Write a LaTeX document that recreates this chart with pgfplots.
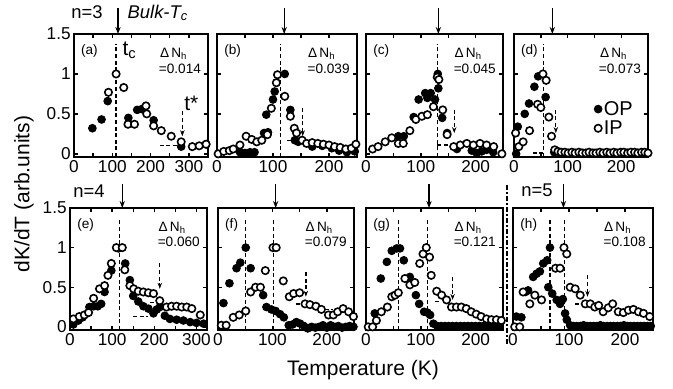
\documentclass[border=0pt]{standalone}
\usepackage{fontspec}
\setmainfont{Liberation Sans}
\usepackage{pgfplots}
\pgfplotsset{compat=1.18}
\usetikzlibrary{arrows.meta}
\pgfplotsset{
  panel/.style={scale only axis, anchor=south west, ymin=-0.04, ymax=1.5, xmin=0,
    ytick={0,0.5,1,1.5}, yticklabels={}, tick align=inside, tick pos=both,
    major tick length=2.2pt, every tick/.append style={line width=0.7pt, black},
    axis line style={line width=0.8pt},
    clip=false,
    tick label style={font=\fontsize{8.6}{9}\selectfont},
    xticklabel style={inner sep=1.5pt},
    yticklabel style={inner sep=1.5pt},
    /pgf/number format/assume math mode=true,
  },
  op/.style={only marks, mark=*, mark size=1.9pt, mark options={fill=black, draw=black, line width=0.5pt}},
  ip/.style={only marks, mark=*, mark size=1.85pt, mark options={fill=white, draw=black, line width=0.8pt}},
  r1/.style={panel, height=61.5pt},
  r2/.style={panel, height=61pt},
  tthree/.style={xtick={0,50,...,300}, xticklabels={0,,100,,200,,300}},
  ttwo/.style={xmax=250, xtick={0,50,...,250}, xticklabels={0,,100,,200,}},
  ylab/.style={yticklabels={0,0.5,1,1.5}},
}
\tikzset{
  dsh/.style={line width=0.65pt, dash pattern=on 2pt off 1.3pt},
  lab/.style={font=\fontsize{6.8}{7}\selectfont, inner sep=0pt},
}
\newcommand\vd[3]{\draw[dsh] (axis cs:#1,#2) -- (axis cs:#1,#3);}
\newcommand\hd[3]{\draw[dsh] (axis cs:#1,#3) -- (axis cs:#2,#3);}
\newcommand\ta[3]{\draw[dsh,-{Stealth[length=3pt,width=2.2pt]}] (axis cs:#1,#2) -- (axis cs:#1,#3);}
\newcommand\bulk[2]{\draw[line width=0.65pt,-{Stealth[length=3.5pt,width=2.6pt]}] (axis cs:#1,#2) -- (axis cs:#1,1.5);}
\newcommand\anno[2]{%
  \node[lab, anchor=west] at (rel axis cs:0.05,0.86) {(#1)};
  \node[lab, anchor=east] at (rel axis cs:0.85,0.84) {Δ\,N\textsubscript{h}};
  \node[lab, anchor=east] at (rel axis cs:0.95,0.72) {=#2};}
\begin{document}
\begin{tikzpicture}
\path[use as bounding box] (0,0) rectangle (336.5pt,194pt);
% ---------- (a)
\begin{axis}[r1, ylab, tthree, xmax=350, width=67pt, at={(37pt,115.5pt)}]
\addplot[op] coordinates {(48,0.32)(72,0.43)(88,0.66)(142,0.45)(165,0.55)(177,0.56)(208,0.42)(280,0.09)(345,0.12)};
\addplot[ip] coordinates {(90,0.77)(110,1.0)(130,0.83)(141,0.37)(158,0.37)(188,0.6)(190,0.5)(208,0.35)(228,0.29)(254,0.22)(280,0.15)(309,0.09)(327,0.1)(345,0.12)};
\vd{110}{-0.04}{1.38}
\ta{283}{0.53}{0.22}
\hd{224}{272}{0.1}
\bulk{115}{1.82}
\node[font=\fontsize{10.5}{11}\selectfont, anchor=west, inner sep=0pt] at (axis cs:126,1.3) {t\textsubscript{c}};
\node[font=\fontsize{10.5}{11}\selectfont, anchor=west, inner sep=0pt] at (axis cs:287,0.63) {t*};
\anno{a}{0.014}
\end{axis}
% ---------- (b)
\begin{axis}[r1, ttwo, width=70pt, at={(108.5pt,115.5pt)}]
\addplot[op] coordinates {(41,0.02)(50,0.01)(59,0.02)(67,0.02)(84,0.26)(91,0.27)(88,0.49)(100,0.68)(103,0.78)(121,1.0)(131,0.55)(139,0.17)(145,0.15)(170,0.09)(188,0.1)(205,0.07)(218,0.04)(232,0.02)(246,0.03)};
\addplot[ip] coordinates {(2,0.0)(12,0.03)(22,0.04)(29,0.06)(41,0.11)(52,0.22)(62,0.18)(71,0.15)(80,0.17)(90,0.24)(97,0.57)(106,0.89)(108,0.99)(121,0.72)(131,0.47)(138,0.32)(142,0.26)(152,0.17)(160,0.13)(170,0.14)(180,0.13)(190,0.12)(200,0.11)(210,0.09)(220,0.08)(230,0.06)(240,0.07)(248,0.12)};
\vd{113}{-0.04}{1.38}
\ta{153}{0.57}{0.22}
\hd{125}{148}{0.17}
\bulk{120}{1.82}
\anno{b}{0.039}
\end{axis}
% ---------- (c)
\begin{axis}[r1, ttwo, width=68.5pt, at={(183pt,115.5pt)}]
\addplot[op] coordinates {(59,0.22)(69,0.22)(87,0.46)(96,0.68)(108,0.76)(112,0.7)(118,0.76)(126,0.68)(132,0.82)(131,1.0)(139,0.45)(148,0.26)(166,0.06)(193,0.04)(202,0.01)(211,0.03)(220,0.05)(232,0.02)};
\addplot[ip] coordinates {(12,0.06)(22,0.09)(35,0.15)(47,0.2)(59,0.13)(68,0.13)(80,0.29)(91,0.43)(102,0.47)(112,0.49)(123,0.59)(130,0.96)(133,0.93)(140,0.55)(148,0.24)(160,0.09)(172,0.11)(184,0.13)(196,0.11)(208,0.13)(220,0.11)(233,0.09)(248,0.0)};
\vd{130}{-0.04}{1.38}
\ta{161}{0.55}{0.26}
\hd{130}{158}{0.11}
\bulk{132}{1.82}
\anno{c}{0.045}
\end{axis}
% ---------- (d)
\begin{axis}[r1, ttwo, width=67pt, at={(257pt,115.5pt)}]
\addplot[op] coordinates {(4,0.0)(7,0.34)(20,0.5)(28,0.63)(38,0.84)(45,0.97)(59,0.71)(75,0.02)(90,0.01)(110,0.01)(130,0.01)(150,0.01)(170,0.01)(190,0.01)(210,0.01)(230,0.01)(248,0.01)};
\addplot[ip] coordinates {(3,0.26)(9,0.09)(17,0.15)(29,0.29)(44,0.62)(50,0.58)(54,1.0)(60,0.92)(65,0.46)(70,0.22)(76,0.05)(82,0.03)(88,0.02)(95,0.02)(101,0.01)(108,0.02)(114,0.01)(121,0.02)(127,0.01)(134,0.01)(140,0.02)(147,0.01)(153,0.01)(160,0.02)(166,0.01)(173,0.02)(179,0.01)(186,0.02)(192,0.01)(199,0.02)(205,0.02)(212,0.01)(218,0.02)(225,0.02)(231,0.01)(238,0.02)(244,0.02)(250,0.01)};
\vd{55}{-0.04}{1.38}
\ta{78}{0.55}{0.26}
\hd{35}{55}{0.01}
\bulk{71.5}{1.82}
\anno{d}{0.073}
\addplot[op] coordinates {(157,0.56)};
\addplot[ip] coordinates {(157,0.32)};
\node[font=\fontsize{10}{10}\selectfont, anchor=west, inner sep=0pt] at (axis cs:167,0.57) {OP};
\node[font=\fontsize{10}{10}\selectfont, anchor=west, inner sep=0pt] at (axis cs:167,0.33) {IP};
\end{axis}
% ---------- (e)
\begin{axis}[r2, ylab, tthree, xmax=325, width=68.5pt, at={(35pt,29pt)}]
\addplot[op] coordinates {(8,0.03)(20,0.08)(30,0.12)(46,0.25)(56,0.26)(66,0.26)(74,0.29)(82,0.44)(98,0.71)(115,0.99)(131,0.8)(142,0.59)(150,0.39)(162,0.32)(174,0.26)(186,0.23)(198,0.17)(206,0.22)(213,0.25)(225,0.14)(237,0.1)(253,0.09)(269,0.08)(285,0.06)(300,0.05)(317,0.04)};
\addplot[ip] coordinates {(8,0.1)(22,0.13)(34,0.15)(44,0.18)(56,0.36)(70,0.48)(82,0.52)(90,0.65)(98,0.8)(110,1.0)(124,1.0)(130,0.72)(142,0.52)(151,0.48)(162,0.45)(174,0.44)(186,0.43)(198,0.42)(213,0.33)(229,0.25)(241,0.26)(253,0.26)(265,0.25)(277,0.25)(289,0.23)(309,0.15)};
\vd{118}{-0.04}{1.37}
\ta{213}{0.8}{0.48}
\hd{150}{186}{0.13}
\hd{190}{206}{0.31}
\bulk{124}{1.8}
\anno{e}{0.060}
\end{axis}
% ---------- (f)
\begin{axis}[r2, ttwo, width=68pt, at={(109pt,29pt)}]
\addplot[op] coordinates {(10,0.3)(21,0.55)(34,0.74)(41,0.81)(51,1.0)(60,0.74)(83,0.4)(89,0.25)(98,0.22)(106,0.2)(114,0.16)(121,0.12)(130,0.02)(137,0.03)(144,0.06)(151,0.04)(158,0.01)(165,-0.02)(172,0.0)(179,-0.01)(186,0.0)(193,0.02)(200,-0.01)(207,0.02)(214,0.0)(221,0.01)(228,-0.01)(235,0.0)(242,0.01)(249,0.0)};
\addplot[ip] coordinates {(6,0.02)(15,0.02)(28,0.12)(39,0.15)(51,0.2)(60,0.44)(69,0.5)(78,0.5)(87,0.71)(101,1.0)(107,1.0)(120,0.58)(131,0.38)(139,0.42)(150,0.43)(160,0.29)(169,0.28)(180,0.26)(190,0.22)(203,0.15)(212,0.15)(220,0.19)(230,0.23)(240,0.19)(249,0.13)};
\vd{51}{-0.04}{1.37}
\vd{102.5}{-0.04}{1.37}
\ta{161.5}{0.69}{0.38}
\hd{144}{160}{0.29}
\hd{196}{212}{0.22}
\bulk{106}{1.8}
\anno{f}{0.079}
\end{axis}
% ---------- (g)
\begin{axis}[r2, ttwo, width=68.5pt, at={(183pt,29pt)}]
\addplot[op] coordinates {(16,0.17)(27,0.61)(38,0.82)(47,0.96)(56,0.99)(62,0.99)(69,0.84)(80,0.63)(91,0.4)(97,0.29)(106,0.19)(112,0.18)(117,0.15)(123,0.04)(130,0.01)(137,0.01)(144,0.01)(151,0.01)(158,0.01)(165,0.01)(172,0.01)(179,0.01)(186,0.01)(193,0.01)(200,0.01)(207,0.01)(214,0.01)(221,0.01)(228,0.01)(235,0.0)(242,0.01)};
\addplot[ip] coordinates {(4,0)(12,0)(19,0.08)(28,0.19)(39,0.25)(47,0.38)(53,0.4)(59,0.43)(71,0.61)(80,0.53)(89,0.56)(98,0.8)(104,0.92)(110,1.0)(116,0.88)(119,0.65)(129,0.45)(138,0.4)(147,0.34)(156,0.25)(165,0.25)(174,0.25)(183,0.23)(192,0.19)(201,0.16)(210,0.13)(220,0.1)(229,0.09)(238,0.09)(247,0.08)};
\vd{59}{-0.04}{1.37}
\vd{112}{-0.04}{1.37}
\ta{158}{0.63}{0.34}
\hd{126}{136}{0.32}
\bulk{115}{1.8}
\anno{g}{0.121}
\end{axis}
% ---------- (h)
\begin{axis}[r2, ttwo, width=70pt, at={(256.5pt,29pt)}]
\addplot[op] coordinates {(6,0.13)(15,0.12)(22,0.44)(27,0.46)(36,0.63)(42,0.67)(48,0.7)(54,0.8)(61,0.84)(66,1.0)(63,0.5)(70,0.42)(78,0.34)(84,0.29)(89,0.35)(93,0.17)(96,0.09)(102,0.02)(108,0.01)(114,0.01)(120,0.01)(126,0.02)(132,0.01)(138,0.01)(144,0.01)(150,0.01)(156,0.02)(162,0.01)(168,0.01)(174,0.01)(180,0.01)(186,0.01)(192,0.01)(198,0.02)(204,0.01)(210,0.01)(216,0.01)(222,0.01)(228,0.01)(234,0.01)(240,0.01)(246,0.01)};
\addplot[ip] coordinates {(3,0.0)(12,0.0)(18,0.44)(30,0.29)(39,0.4)(51,0.34)(76,0.74)(84,0.74)(91,1.0)(96,0.92)(102,0.5)(111,0.48)(120,0.4)(129,0.29)(138,0.29)(146,0.25)(153,0.27)(161,0.19)(170,0.24)(178,0.29)(188,0.19)(197,0.18)(206,0.21)(215,0.22)(224,0.19)(233,0.17)(244,0.13)};
\vd{66}{-0.04}{1.37}
\vd{91.5}{-0.04}{1.37}
\ta{133}{0.65}{0.38}
\hd{111}{126}{0.29}
\bulk{90}{1.8}
\anno{h}{0.108}
\end{axis}
% ---------- outer texts
\draw[line width=0.65pt, dash pattern=on 2.5pt off 1.2pt on 0.6pt off 1.2pt] (253.5pt,101.5pt) -- (253.5pt,21.5pt);
\node[font=\fontsize{9.2}{10}\selectfont] at (43.5pt,188pt) {n=3};
\node[font=\fontsize{9.2}{10}\selectfont] at (79pt,187.5pt) {\textit{Bulk-T\textsubscript{c}}};
\node[font=\fontsize{9.2}{10}\selectfont] at (44.5pt,98.5pt) {n=4};
\node[font=\fontsize{9.2}{10}\selectfont] at (268.5pt,99pt) {n=5};
\node[font=\fontsize{10.5}{11}\selectfont, rotate=90] at (12pt,97pt) {dK/dT (arb.units)};
\node[font=\fontsize{10.5}{11}\selectfont] at (181.5pt,9pt) {Temperature (K)};
\end{tikzpicture}
\end{document}
